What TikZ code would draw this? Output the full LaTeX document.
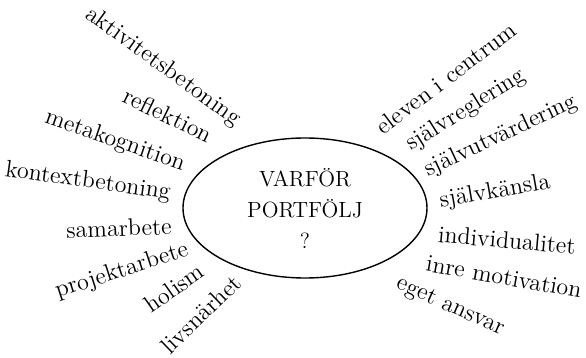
\documentclass[tikz,border=0pt]{standalone}
\usepackage{fontspec}
\usetikzlibrary{shapes.geometric}

\begin{document}
\begin{tikzpicture}[
    x = 0.5pt, y = -0.5pt,
    word/.style = {font = \fontsize{12}{13}\selectfont, inner sep = 0pt},
    question/.style = {draw, ellipse, line width = 0.7pt, align = center,
      font = \fontsize{11}{15.5}\selectfont, inner sep = 0pt,
      minimum width = 122pt, minimum height = 70pt},
  ]
  \useasboundingbox (0,0) rectangle (586,358);

  \node [question] (why) at (305,208) {VARFÖR\\PORTFÖLJ\\?};

  \foreach \i/\x/\y/\a/\txt in {
      1/163/67/-36/aktivitetsbetoning,
      2/168/115/-26/reflektion,
      3/115/141/-19/metakognition,
      4/88/182/-8/kontextbetoning,
      5/119/228/2/samarbete,
      6/122/271/18/projektarbete,
      7/174/288/35/holism,
      8/201/314/44/livsnärhet} {
    \node [word, rotate = \a] (left word \i) at (\x,\y) {\txt};
  }

  \foreach \i/\x/\y/\a/\txt in {
      1/446/78/37/{eleven i centrum},
      2/466/110/32/självreglering,
      3/501/136/25/självutvärdering,
      4/495/192/10/självkänsla,
      5/507/240/-5/individualitet,
      6/504/277/-10/{inre motivation},
      7/450/307/-24/{eget ansvar}} {
    \node [word, rotate = \a] (right word \i) at (\x,\y) {\txt};
  }
\end{tikzpicture}
\end{document}
